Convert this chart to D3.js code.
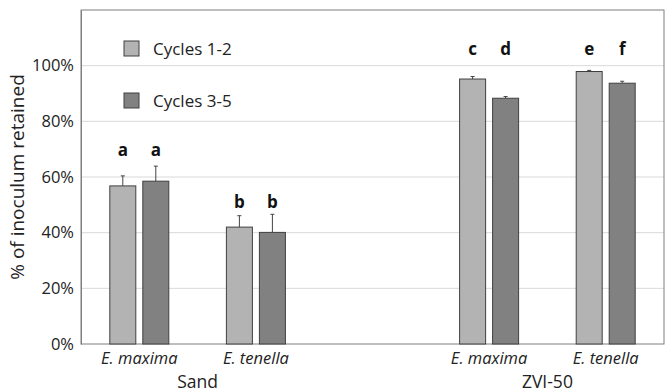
<!DOCTYPE html>
<html>
<head>
<meta charset="utf-8">
<script src="https://cdn.jsdelivr.net/npm/d3@7"></script>
<style>
	body { margin: 0; background: #fff; }
	text { font-family: "Open Sans", "Liberation Sans", sans-serif; fill: #222; }
</style>
</head>
<body>
<div id="chart"></div>
<script>
// data
var slots = ["Sand|E. maxima", "Sand|E. tenella", "gap", "ZVI-50|E. maxima", "ZVI-50|E. tenella"];
var species = ["E. maxima", "E. tenella", "", "E. maxima", "E. tenella"];
var groups = ["Sand", "ZVI-50"];
var groupSlots = [[0, 1], [3, 4]];
var series = ["Cycles 1-2", "Cycles 3-5"];
var cycles12 = [56.8, 42.0, null, 95.2, 97.9];
var cycles35 = [58.5, 40.1, null, 88.3, 93.7];
var err12 = [3.6, 4.1, null, 0.9, 0.4];
var err35 = [5.4, 6.5, null, 0.6, 0.7];
var letters12 = ["a", "b", null, "c", "e"];
var letters35 = ["a", "b", null, "d", "f"];
var letterY = [67.4, 48.8, null, 104, 104];
var yTicks = [0, 20, 40, 60, 80, 100];

var W = 665, H = 392;
var margin = { top: 10, right: 1, bottom: 48, left: 81 };
var colors = ["#b3b3b3", "#818181"];

var svg = d3.select("#chart").append("svg")
	.attr("width", W)
	.attr("height", H);

var x = d3.scaleBand()
	.domain(slots)
	.range([margin.left, W - margin.right]);

var y = d3.scaleLinear()
	.domain([0, 120])
	.range([H - margin.bottom, margin.top]);

var barW = 26, barGap = 7;
function barX(i, s) {
	var c = x(slots[i]) + x.bandwidth() / 2;
	return s === 0 ? c - barGap / 2 - barW : c + barGap / 2;
}

// gridlines
svg.append("g")
	.selectAll("line")
	.data(yTicks.filter(function(d) { return d > 0; }))
	.enter().append("line")
	.attr("x1", margin.left)
	.attr("x2", W - margin.right)
	.attr("y1", function(d) { return y(d); })
	.attr("y2", function(d) { return y(d); })
	.style("stroke", "#d9d9d9")
	.style("stroke-width", 1);

// plot frame
svg.append("rect")
	.attr("x", margin.left)
	.attr("y", y(120))
	.attr("width", W - margin.right - margin.left)
	.attr("height", y(0) - y(120))
	.style("fill", "none")
	.style("stroke", "#7f7f7f");

// y axis
var yAxis = svg.append("g")
	.attr("transform", "translate(" + margin.left + ",0)")
	.call(d3.axisLeft(y).tickValues(yTicks).tickSize(0).tickPadding(7)
		.tickFormat(function(d) { return d + "%"; }));
yAxis.select(".domain").style("stroke", "#7f7f7f");
yAxis.selectAll("text").style("font-size", "16.5px").style("fill", "#222");

svg.append("text")
	.attr("transform", "translate(24," + (y(0) + y(120)) / 2 + ") rotate(-90)")
	.attr("text-anchor", "middle")
	.style("font-size", "19px")
	.text("% of inoculum retained");

// bars
var allSeries = [cycles12, cycles35];
var allErr = [err12, err35];
var allLetters = [letters12, letters35];

allSeries.forEach(function(vals, s) {
	var idx = d3.range(vals.length).filter(function(i) { return vals[i] != null; });
	var g = svg.append("g").attr("class", "series");

	g.selectAll(".err")
		.data(idx)
		.enter().append("path")
		.attr("class", "err")
		.attr("d", function(i) {
			var cx = barX(i, s) + barW / 2;
			var y0 = y(vals[i]), y1 = y(vals[i] + allErr[s][i]);
			return "M" + cx + "," + y0 + "V" + y1 + "M" + (cx - 2) + "," + y1 + "H" + (cx + 2);
		})
		.style("stroke", "#444")
		.style("stroke-width", 1)
		.style("fill", "none");

	g.selectAll(".bar")
		.data(idx)
		.enter().append("rect")
		.attr("class", "bar")
		.attr("x", function(i) { return barX(i, s); })
		.attr("y", function(i) { return y(vals[i]); })
		.attr("width", barW)
		.attr("height", function(i) { return y(0) - y(vals[i]); })
		.style("fill", colors[s])
		.style("stroke", "#404040")
		.style("stroke-width", 1);

	g.selectAll(".letter")
		.data(idx)
		.enter().append("text")
		.attr("class", "letter")
		.attr("x", function(i) { return barX(i, s) + barW / 2; })
		.attr("y", function(i) { return y(letterY[i]); })
		.attr("text-anchor", "middle")
		.style("font-size", "17px")
		.style("font-weight", "bold")
		.style("fill", "#111")
		.text(function(i) { return allLetters[s][i]; });
});

// category labels
svg.append("g")
	.selectAll("text")
	.data(d3.range(slots.length).filter(function(i) { return species[i] !== ""; }))
	.enter().append("text")
	.attr("x", function(i) { return x(slots[i]) + x.bandwidth() / 2; })
	.attr("y", 364)
	.attr("text-anchor", "middle")
	.style("font-size", "16.5px")
	.style("font-style", "italic")
	.text(function(i) { return species[i]; });

svg.append("g")
	.selectAll("text")
	.data(groups)
	.enter().append("text")
	.attr("x", function(d, k) {
		var a = groupSlots[k][0], b = groupSlots[k][1];
		return (x(slots[a]) + x(slots[b]) + x.bandwidth()) / 2;
	})
	.attr("y", 388)
	.attr("text-anchor", "middle")
	.style("font-size", "17.5px")
	.text(function(d) { return d; });

// legend
var legend = svg.append("g")
	.selectAll("g")
	.data(series)
	.enter().append("g")
	.attr("transform", function(d, k) { return "translate(124," + (41 + k * 52) + ")"; });

legend.append("rect")
	.attr("width", 15)
	.attr("height", 15)
	.style("fill", function(d, k) { return colors[k]; })
	.style("stroke", "#404040");

legend.append("text")
	.attr("x", 29)
	.attr("y", 14)
	.style("font-size", "17px")
	.text(function(d) { return d; });
</script>
</body>
</html>
